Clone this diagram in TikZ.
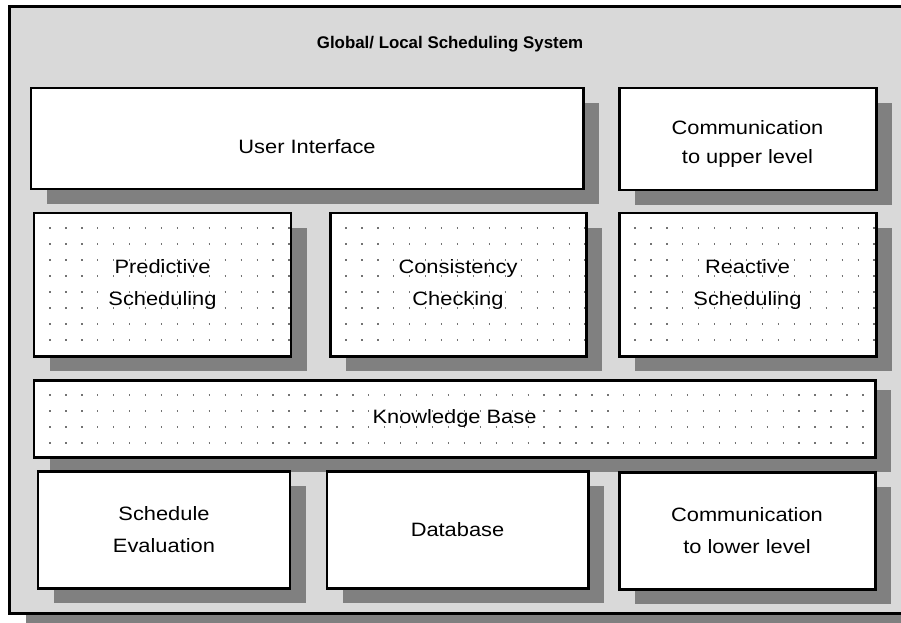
\documentclass[tikz,border=0pt]{standalone}
\usepackage{fontspec}
\setmainfont{Liberation Sans}[FakeStretch=1.13]
\newfontfamily\titlefont{Liberation Sans}
\usetikzlibrary{shadows}
\colorlet{Bgcol}{black!15}
\colorlet{Shcol}{black!50}
\colorlet{Dotcol}{black!55}
\def\Dd{0.32} % dot spacing
\tikzset{
  boxshadow/.style={drop shadow={shadow xshift=0.32cm,shadow yshift=-0.3cm,fill=Shcol,opacity=1}},
  block/.style={draw,fill=white,line width=1.7pt,align=center,inner sep=0pt,boxshadow,
    font=\fontsize{11}{18}\selectfont},
  dotrow/.style={Dotcol,line width=0.75pt,dash pattern=on 0.75pt off 8.32pt},
  dotblock/.style={block,path picture={
    \foreach \r in {1,...,9}
      \draw[dotrow] (path picture bounding box.north west) ++(\Dd-0.013,{0.02-\r*\Dd}) -- ++(17,0);
  }},
}
\begin{document}
\begin{tikzpicture}
  \useasboundingbox (0,0) rectangle (18.02,-12.44);
  % outer frame
  \draw[line width=1.7pt,fill=Bgcol,boxshadow] (0.19,-0.13) rectangle (18.4,-12.26);
  \node[font=\titlefont\bfseries\fontsize{9.6}{12}\selectfont] (title) at (9.0,-0.88) {Global/ Local Scheduling System};

  % top row
  \node[block,minimum width=11.04cm,minimum height=2.02cm,text height=0.6cm] (ui) at (6.14,-2.77) {User Interface};
  \node[block,minimum width=5.14cm,minimum height=2.04cm,text height=1.05cm] (commup) at (14.95,-2.78) {Communication\\[-1.5pt]to upper level};

  % scheduling modules
  \node[dotblock,minimum width=5.14cm,minimum height=2.86cm] (pred) at (3.25,-5.69) {Predictive\\Scheduling};
  \node[dotblock,minimum width=5.12cm,minimum height=2.86cm] (cons) at (9.16,-5.69) {Consistency\\Checking};
  \node[dotblock,minimum width=5.14cm,minimum height=2.86cm] (react) at (14.95,-5.69) {Reactive\\Scheduling};

  % knowledge base
  \node[dotblock,minimum width=16.82cm,minimum height=1.54cm,
    drop shadow={shadow xshift=0.32cm,shadow yshift=-0.2cm,fill=Shcol,opacity=1}] (kb) at (9.09,-8.37) {Knowledge Base};

  % bottom row
  \node[block,minimum width=5.04cm,minimum height=2.34cm] (eval) at (3.28,-10.59) {Schedule\\Evaluation};
  \node[block,minimum width=5.22cm,minimum height=2.34cm] (db) at (9.15,-10.59) {Database};
  \node[block,minimum width=5.12cm,minimum height=2.34cm] (commlow) at (14.94,-10.61) {Communication\\to lower level};
\end{tikzpicture}
\end{document}
